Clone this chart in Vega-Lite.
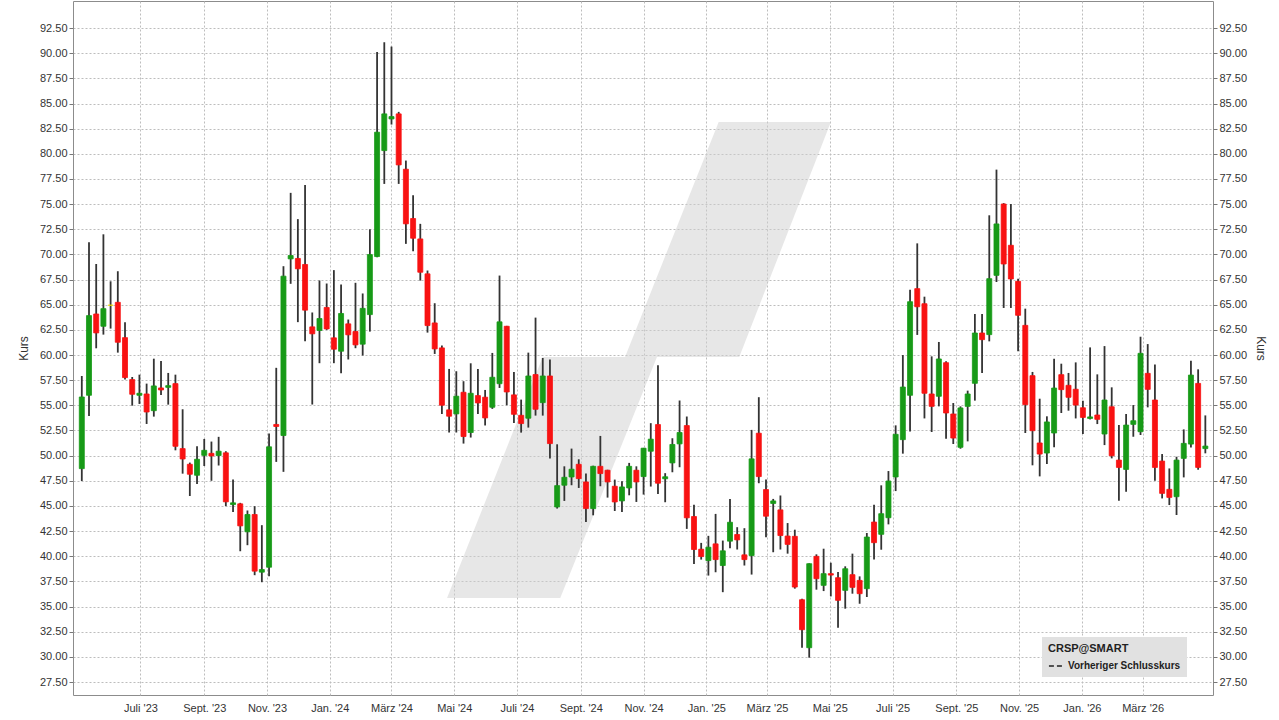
{
  "$schema": "https://vega.github.io/schema/vega-lite/v6.json",
  "width": 1140,
  "height": 694,
  "autosize": "none",
  "padding": {"left": 73, "top": 1, "right": 66, "bottom": 25},
  "background": "white",
  "config": {
    "view": {"stroke": "#8c8c8c", "strokeWidth": 1},
    "axis": {
      "labelFont": "Liberation Sans",
      "labelFontSize": 11,
      "labelColor": "#333333",
      "titleFont": "Liberation Sans",
      "titleFontSize": 12,
      "titleFontWeight": "normal",
      "titleColor": "#333333",
      "gridColor": "#bdbdbd",
      "gridDash": [2, 2],
      "gridWidth": 1,
      "domain": false,
      "tickColor": "#777777"
    }
  },
  "datasets": {
    "candles": [
      {"date": "2023-05-05", "open": 48.71, "high": 57.92, "low": 47.48, "close": 55.83},
      {"date": "2023-05-12", "open": 56.0, "high": 71.2, "low": 53.95, "close": 63.92},
      {"date": "2023-05-19", "open": 64.08, "high": 69.05, "low": 60.67, "close": 62.2},
      {"date": "2023-05-26", "open": 62.86, "high": 72.0, "low": 62.03, "close": 64.61},
      {"date": "2023-06-02", "open": 64.95, "high": 67.33, "low": 62.63, "close": 64.95},
      {"date": "2023-06-09", "open": 65.24, "high": 68.33, "low": 60.24, "close": 61.27},
      {"date": "2023-06-16", "open": 61.73, "high": 63.26, "low": 57.56, "close": 57.76},
      {"date": "2023-06-23", "open": 57.56, "high": 57.82, "low": 54.97, "close": 56.1},
      {"date": "2023-06-30", "open": 56.0, "high": 58.05, "low": 55.14, "close": 56.2},
      {"date": "2023-07-07", "open": 56.13, "high": 57.16, "low": 53.15, "close": 54.34},
      {"date": "2023-07-14", "open": 54.47, "high": 59.64, "low": 53.88, "close": 56.93},
      {"date": "2023-07-21", "open": 56.73, "high": 59.41, "low": 56.03, "close": 56.53},
      {"date": "2023-07-28", "open": 56.79, "high": 58.22, "low": 55.07, "close": 56.96},
      {"date": "2023-08-04", "open": 57.16, "high": 58.05, "low": 50.53, "close": 50.93},
      {"date": "2023-08-11", "open": 50.7, "high": 54.61, "low": 48.21, "close": 49.67},
      {"date": "2023-08-18", "open": 49.14, "high": 49.31, "low": 45.99, "close": 48.15},
      {"date": "2023-08-25", "open": 48.05, "high": 50.93, "low": 47.19, "close": 49.64},
      {"date": "2023-09-01", "open": 50.03, "high": 51.66, "low": 48.97, "close": 50.53},
      {"date": "2023-09-08", "open": 50.23, "high": 51.4, "low": 47.5, "close": 49.97},
      {"date": "2023-09-15", "open": 50.01, "high": 51.87, "low": 49.02, "close": 50.44},
      {"date": "2023-09-22", "open": 50.28, "high": 50.44, "low": 44.98, "close": 45.41},
      {"date": "2023-09-29", "open": 45.14, "high": 47.63, "low": 44.41, "close": 45.31},
      {"date": "2023-10-06", "open": 45.21, "high": 45.31, "low": 40.5, "close": 43.02},
      {"date": "2023-10-13", "open": 42.43, "high": 44.55, "low": 41.1, "close": 44.15},
      {"date": "2023-10-20", "open": 44.15, "high": 44.98, "low": 38.12, "close": 38.52},
      {"date": "2023-10-27", "open": 38.42, "high": 43.09, "low": 37.42, "close": 38.68},
      {"date": "2023-11-03", "open": 38.91, "high": 52.2, "low": 38.02, "close": 50.88},
      {"date": "2023-11-10", "open": 53.1, "high": 58.73, "low": 49.38, "close": 52.9},
      {"date": "2023-11-17", "open": 52.0, "high": 68.83, "low": 48.39, "close": 67.84},
      {"date": "2023-11-24", "open": 69.56, "high": 76.12, "low": 67.08, "close": 69.89},
      {"date": "2023-12-01", "open": 69.6, "high": 73.51, "low": 63.27, "close": 68.57},
      {"date": "2023-12-08", "open": 69.0, "high": 76.89, "low": 61.38, "close": 64.46},
      {"date": "2023-12-15", "open": 62.8, "high": 64.23, "low": 55.08, "close": 62.11},
      {"date": "2023-12-22", "open": 62.44, "high": 67.41, "low": 59.19, "close": 63.63},
      {"date": "2023-12-29", "open": 64.73, "high": 67.11, "low": 62.5, "close": 62.6},
      {"date": "2024-01-05", "open": 61.71, "high": 68.44, "low": 59.19, "close": 60.58},
      {"date": "2024-01-12", "open": 60.38, "high": 67.01, "low": 58.2, "close": 64.13},
      {"date": "2024-01-19", "open": 63.1, "high": 63.53, "low": 59.56, "close": 62.01},
      {"date": "2024-01-26", "open": 62.34, "high": 67.18, "low": 60.68, "close": 61.01},
      {"date": "2024-02-02", "open": 61.08, "high": 66.12, "low": 59.95, "close": 64.64},
      {"date": "2024-02-09", "open": 64.02, "high": 72.5, "low": 62.33, "close": 69.99},
      {"date": "2024-02-16", "open": 69.79, "high": 90.13, "low": 69.72, "close": 82.15},
      {"date": "2024-02-23", "open": 80.32, "high": 91.09, "low": 77.01, "close": 83.97},
      {"date": "2024-03-01", "open": 83.47, "high": 90.66, "low": 82.91, "close": 83.7},
      {"date": "2024-03-08", "open": 83.97, "high": 84.17, "low": 77.01, "close": 78.9},
      {"date": "2024-03-15", "open": 78.47, "high": 79.33, "low": 71.05, "close": 73.04},
      {"date": "2024-03-22", "open": 73.57, "high": 75.88, "low": 70.32, "close": 71.61},
      {"date": "2024-03-29", "open": 71.54, "high": 73.04, "low": 67.4, "close": 68.23},
      {"date": "2024-04-05", "open": 68.07, "high": 68.4, "low": 62.23, "close": 62.93},
      {"date": "2024-04-12", "open": 63.19, "high": 65.15, "low": 60.11, "close": 60.61},
      {"date": "2024-04-19", "open": 60.71, "high": 60.94, "low": 54.15, "close": 55.01},
      {"date": "2024-04-26", "open": 54.55, "high": 58.62, "low": 52.3, "close": 53.92},
      {"date": "2024-05-03", "open": 54.15, "high": 58.39, "low": 52.3, "close": 55.91},
      {"date": "2024-05-10", "open": 56.3, "high": 57.4, "low": 51.2, "close": 51.9},
      {"date": "2024-05-17", "open": 52.3, "high": 59.18, "low": 51.8, "close": 56.2},
      {"date": "2024-05-24", "open": 55.97, "high": 58.62, "low": 54.15, "close": 55.24},
      {"date": "2024-05-31", "open": 55.81, "high": 56.53, "low": 53.0, "close": 53.75},
      {"date": "2024-06-07", "open": 54.81, "high": 60.21, "low": 54.65, "close": 57.79},
      {"date": "2024-06-14", "open": 57.15, "high": 67.9, "low": 56.73, "close": 63.3},
      {"date": "2024-06-21", "open": 62.86, "high": 62.9, "low": 55.01, "close": 56.33},
      {"date": "2024-06-28", "open": 56.04, "high": 58.32, "low": 53.25, "close": 54.11},
      {"date": "2024-07-05", "open": 54.01, "high": 55.57, "low": 52.29, "close": 53.19},
      {"date": "2024-07-12", "open": 53.72, "high": 60.24, "low": 52.79, "close": 57.92},
      {"date": "2024-07-19", "open": 58.06, "high": 63.72, "low": 53.98, "close": 54.61},
      {"date": "2024-07-26", "open": 55.27, "high": 59.71, "low": 53.98, "close": 57.92},
      {"date": "2024-08-02", "open": 57.92, "high": 59.55, "low": 49.71, "close": 51.2},
      {"date": "2024-08-09", "open": 44.9, "high": 51.13, "low": 44.74, "close": 47.02},
      {"date": "2024-08-16", "open": 47.06, "high": 48.94, "low": 45.5, "close": 47.85},
      {"date": "2024-08-23", "open": 47.88, "high": 50.7, "low": 47.06, "close": 48.65},
      {"date": "2024-08-30", "open": 49.14, "high": 49.64, "low": 46.79, "close": 47.72},
      {"date": "2024-09-06", "open": 47.39, "high": 48.22, "low": 43.41, "close": 44.74},
      {"date": "2024-09-13", "open": 44.74, "high": 49.0, "low": 44.07, "close": 48.94},
      {"date": "2024-09-20", "open": 48.94, "high": 51.96, "low": 46.96, "close": 48.22},
      {"date": "2024-09-27", "open": 48.55, "high": 48.6, "low": 45.83, "close": 47.39},
      {"date": "2024-10-04", "open": 46.96, "high": 47.62, "low": 44.5, "close": 45.4},
      {"date": "2024-10-11", "open": 45.5, "high": 47.45, "low": 44.41, "close": 46.89},
      {"date": "2024-10-18", "open": 46.79, "high": 49.28, "low": 46.06, "close": 48.94},
      {"date": "2024-10-25", "open": 48.55, "high": 48.94, "low": 45.4, "close": 47.39},
      {"date": "2024-11-01", "open": 47.92, "high": 50.77, "low": 46.13, "close": 50.74},
      {"date": "2024-11-08", "open": 50.44, "high": 53.23, "low": 46.93, "close": 51.64},
      {"date": "2024-11-15", "open": 53.09, "high": 58.99, "low": 46.2, "close": 47.26},
      {"date": "2024-11-22", "open": 47.7, "high": 48.26, "low": 45.37, "close": 47.9},
      {"date": "2024-11-29", "open": 49.28, "high": 51.73, "low": 48.35, "close": 51.11},
      {"date": "2024-12-06", "open": 51.17, "high": 55.48, "low": 48.85, "close": 52.3},
      {"date": "2024-12-13", "open": 52.99, "high": 53.89, "low": 42.72, "close": 43.82},
      {"date": "2024-12-20", "open": 43.95, "high": 45.11, "low": 39.24, "close": 40.67},
      {"date": "2024-12-27", "open": 40.7, "high": 41.33, "low": 39.67, "close": 39.97},
      {"date": "2025-01-03", "open": 39.57, "high": 42.03, "low": 38.08, "close": 40.9},
      {"date": "2025-01-10", "open": 41.23, "high": 44.21, "low": 38.41, "close": 39.67},
      {"date": "2025-01-17", "open": 39.08, "high": 41.56, "low": 36.43, "close": 40.54},
      {"date": "2025-01-24", "open": 41.5, "high": 45.7, "low": 40.8, "close": 43.38},
      {"date": "2025-01-31", "open": 42.16, "high": 42.89, "low": 40.67, "close": 41.63},
      {"date": "2025-02-07", "open": 40.14, "high": 42.79, "low": 39.08, "close": 39.67},
      {"date": "2025-02-14", "open": 40.07, "high": 52.56, "low": 38.18, "close": 49.68},
      {"date": "2025-02-21", "open": 52.23, "high": 55.81, "low": 47.26, "close": 47.92},
      {"date": "2025-02-28", "open": 46.63, "high": 47.63, "low": 41.89, "close": 43.98},
      {"date": "2025-03-07", "open": 45.25, "high": 45.7, "low": 40.4, "close": 45.5},
      {"date": "2025-03-14", "open": 44.61, "high": 46.04, "low": 40.67, "close": 42.06},
      {"date": "2025-03-21", "open": 42.01, "high": 43.3, "low": 40.26, "close": 41.18},
      {"date": "2025-03-28", "open": 41.98, "high": 42.64, "low": 36.78, "close": 36.94},
      {"date": "2025-04-04", "open": 35.68, "high": 35.78, "low": 30.91, "close": 32.7},
      {"date": "2025-04-11", "open": 30.91, "high": 39.3, "low": 29.92, "close": 39.26},
      {"date": "2025-04-18", "open": 39.99, "high": 40.19, "low": 36.68, "close": 37.77},
      {"date": "2025-04-25", "open": 37.11, "high": 40.75, "low": 36.54, "close": 38.27},
      {"date": "2025-05-02", "open": 38.27, "high": 39.36, "low": 36.01, "close": 38.13},
      {"date": "2025-05-09", "open": 37.87, "high": 38.43, "low": 32.9, "close": 35.62},
      {"date": "2025-05-16", "open": 36.61, "high": 39.0, "low": 34.79, "close": 38.76},
      {"date": "2025-05-23", "open": 38.17, "high": 40.26, "low": 36.28, "close": 36.91},
      {"date": "2025-05-30", "open": 37.6, "high": 38.0, "low": 35.28, "close": 36.28},
      {"date": "2025-06-06", "open": 36.78, "high": 42.31, "low": 35.95, "close": 41.91},
      {"date": "2025-06-13", "open": 43.4, "high": 45.13, "low": 39.69, "close": 41.35},
      {"date": "2025-06-20", "open": 42.18, "high": 47.05, "low": 40.65, "close": 44.23},
      {"date": "2025-06-27", "open": 43.83, "high": 48.47, "low": 43.17, "close": 47.48},
      {"date": "2025-07-04", "open": 47.88, "high": 53.01, "low": 46.48, "close": 52.12},
      {"date": "2025-07-11", "open": 51.59, "high": 60.0, "low": 50.2, "close": 56.82},
      {"date": "2025-07-18", "open": 56.0, "high": 66.5, "low": 52.4, "close": 65.3},
      {"date": "2025-07-25", "open": 66.6, "high": 71.1, "low": 62.0, "close": 64.8},
      {"date": "2025-08-01", "open": 65.1, "high": 65.8, "low": 53.7, "close": 56.2},
      {"date": "2025-08-08", "open": 56.13, "high": 59.87, "low": 52.35, "close": 54.9},
      {"date": "2025-08-15", "open": 55.9, "high": 61.3, "low": 54.9, "close": 59.61},
      {"date": "2025-08-22", "open": 59.24, "high": 59.38, "low": 51.69, "close": 54.24},
      {"date": "2025-08-29", "open": 54.14, "high": 55.23, "low": 51.16, "close": 51.75},
      {"date": "2025-09-05", "open": 50.83, "high": 54.9, "low": 50.69, "close": 54.74},
      {"date": "2025-09-12", "open": 54.9, "high": 56.46, "low": 51.42, "close": 56.13},
      {"date": "2025-09-19", "open": 57.19, "high": 64.08, "low": 55.47, "close": 62.19},
      {"date": "2025-09-26", "open": 62.19, "high": 64.08, "low": 58.22, "close": 61.53},
      {"date": "2025-10-03", "open": 62.03, "high": 73.89, "low": 61.36, "close": 67.59},
      {"date": "2025-10-10", "open": 67.92, "high": 78.43, "low": 67.26, "close": 73.03},
      {"date": "2025-10-17", "open": 75.01, "high": 75.1, "low": 64.68, "close": 69.05},
      {"date": "2025-10-24", "open": 70.91, "high": 75.01, "low": 64.68, "close": 67.56},
      {"date": "2025-10-31", "open": 67.33, "high": 67.59, "low": 60.37, "close": 63.95},
      {"date": "2025-11-07", "open": 62.95, "high": 64.61, "low": 52.25, "close": 55.07},
      {"date": "2025-11-14", "open": 57.95, "high": 58.32, "low": 49.04, "close": 52.48},
      {"date": "2025-11-21", "open": 51.26, "high": 55.66, "low": 47.94, "close": 50.16},
      {"date": "2025-11-28", "open": 50.26, "high": 53.91, "low": 49.17, "close": 53.35},
      {"date": "2025-12-05", "open": 52.25, "high": 59.64, "low": 50.83, "close": 56.72},
      {"date": "2025-12-12", "open": 58.05, "high": 59.14, "low": 54.24, "close": 56.56},
      {"date": "2025-12-19", "open": 56.99, "high": 58.22, "low": 54.47, "close": 55.8},
      {"date": "2025-12-26", "open": 56.6, "high": 59.27, "low": 53.7, "close": 55.03},
      {"date": "2026-01-02", "open": 54.76, "high": 55.46, "low": 52.15, "close": 53.8},
      {"date": "2026-01-09", "open": 53.7, "high": 60.76, "low": 53.6, "close": 53.85},
      {"date": "2026-01-16", "open": 54.04, "high": 58.08, "low": 53.14, "close": 53.61},
      {"date": "2026-01-23", "open": 52.15, "high": 60.89, "low": 51.05, "close": 55.53},
      {"date": "2026-01-30", "open": 54.86, "high": 56.79, "low": 49.73, "close": 49.99},
      {"date": "2026-02-06", "open": 49.56, "high": 53.04, "low": 45.52, "close": 48.83},
      {"date": "2026-02-13", "open": 48.63, "high": 54.14, "low": 46.41, "close": 53.04},
      {"date": "2026-02-20", "open": 53.11, "high": 55.03, "low": 51.88, "close": 53.47},
      {"date": "2026-02-27", "open": 52.38, "high": 61.82, "low": 52.05, "close": 60.17},
      {"date": "2026-03-06", "open": 58.18, "high": 61.09, "low": 54.8, "close": 56.59},
      {"date": "2026-03-13", "open": 55.53, "high": 59.07, "low": 47.51, "close": 48.83},
      {"date": "2026-03-20", "open": 49.46, "high": 50.16, "low": 45.75, "close": 46.25},
      {"date": "2026-03-27", "open": 46.65, "high": 48.73, "low": 45.09, "close": 45.85},
      {"date": "2026-04-03", "open": 45.92, "high": 49.89, "low": 44.1, "close": 49.56},
      {"date": "2026-04-10", "open": 49.73, "high": 52.61, "low": 47.84, "close": 51.22},
      {"date": "2026-04-17", "open": 51.15, "high": 59.44, "low": 50.82, "close": 58.01},
      {"date": "2026-04-24", "open": 57.18, "high": 58.58, "low": 48.6, "close": 48.83},
      {"date": "2026-05-01", "open": 50.7, "high": 54.0, "low": 50.23, "close": 50.95}
    ],
    "watermark": [
      {"i": 1, "date": "2025-01-13", "kurs": 83.17},
      {"i": 2, "date": "2025-05-02", "kurs": 83.17},
      {"i": 3, "date": "2025-02-02", "kurs": 59.81},
      {"i": 4, "date": "2024-11-14", "kurs": 59.81},
      {"i": 5, "date": "2024-08-12", "kurs": 35.85},
      {"i": 6, "date": "2024-04-24", "kurs": 35.85},
      {"i": 7, "date": "2024-07-26", "kurs": 59.81},
      {"i": 8, "date": "2024-10-14", "kurs": 59.81}
    ],
    "prev": [
      {"date": "2026-05-01", "kurs": 50.8, "serie": "Vorheriger Schlusskurs"}
    ]
  },
  "resolve": {"axis": {"x": "independent", "y": "independent"}},
  "layer": [
    {
      "data": {"name": "watermark"},
      "mark": {"type": "line", "fill": "#cfcfcf", "fillOpacity": 0.5, "stroke": "#cfcfcf", "strokeOpacity": 0, "strokeWidth": 0, "clip": true},
      "encoding": {
        "y": {"field": "kurs", "type": "quantitative", "scale": {"domain": [26.21, 95.19], "zero": false, "nice": false}, "axis": null},
        "x": {"field": "date", "type": "temporal", "scale": {"type": "utc", "domain": [{"year": 2023, "month": 5, "date": 1, "hours": 7, "minutes": 26, "utc": true}, {"year": 2026, "month": 5, "date": 3, "hours": 14, "utc": true}]}, "axis": null},
        "order": {"field": "i", "type": "quantitative"}
      }
    },
    {
      "data": {"name": "candles"},
      "mark": {"type": "rule", "color": "#333333", "strokeWidth": 1.8},
      "encoding": {
        "x": {
          "field": "date", "type": "temporal",
          "scale": {"type": "utc", "domain": [{"year": 2023, "month": 5, "date": 1, "hours": 7, "minutes": 26, "utc": true}, {"year": 2026, "month": 5, "date": 3, "hours": 14, "utc": true}]},
          "axis": {
            "title": null,
            "grid": true,
            "ticks": false,
            "tickSize": 0,
            "labelPadding": 7,
            "labelFont": "Liberation Sans",
            "labelFontSize": 11,
            "values": [
              {"year": 2023, "month": 7, "date": 1, "utc": true},
              {"year": 2023, "month": 9, "date": 1, "utc": true},
              {"year": 2023, "month": 11, "date": 1, "utc": true},
              {"year": 2024, "month": 1, "date": 1, "utc": true},
              {"year": 2024, "month": 3, "date": 1, "utc": true},
              {"year": 2024, "month": 5, "date": 1, "utc": true},
              {"year": 2024, "month": 7, "date": 1, "utc": true},
              {"year": 2024, "month": 9, "date": 1, "utc": true},
              {"year": 2024, "month": 11, "date": 1, "utc": true},
              {"year": 2025, "month": 1, "date": 1, "utc": true},
              {"year": 2025, "month": 3, "date": 1, "utc": true},
              {"year": 2025, "month": 5, "date": 1, "utc": true},
              {"year": 2025, "month": 7, "date": 1, "utc": true},
              {"year": 2025, "month": 9, "date": 1, "utc": true},
              {"year": 2025, "month": 11, "date": 1, "utc": true},
              {"year": 2026, "month": 1, "date": 1, "utc": true},
              {"year": 2026, "month": 3, "date": 1, "utc": true}
            ],
            "labelExpr": "['Jan.','Feb.','März','Apr.','Mai','Juni','Juli','Aug.','Sept.','Okt.','Nov.','Dez.'][utcmonth(datum.value)] + ' ' + utcFormat(datum.value, \"'%y\")"
          }
        },
        "y": {
          "field": "low", "type": "quantitative",
          "scale": {"domain": [26.21, 95.19], "zero": false, "nice": false},
          "axis": {
            "orient": "left",
            "title": "Kurs",
            "grid": true,
            "format": ".2f",
            "tickSize": 4,
            "labelPadding": 2,
            "titlePadding": 9,
            "values": [27.5, 30, 32.5, 35, 37.5, 40, 42.5, 45, 47.5, 50, 52.5, 55, 57.5, 60, 62.5, 65, 67.5, 70, 72.5, 75, 77.5, 80, 82.5, 85, 87.5, 90, 92.5]
          }
        },
        "y2": {"field": "high"}
      }
    },
    {
      "data": {"name": "candles"},
      "mark": {"type": "bar", "size": 5, "strokeWidth": 0.8},
      "encoding": {
        "x": {"field": "date", "type": "temporal", "scale": {"type": "utc", "domain": [{"year": 2023, "month": 5, "date": 1, "hours": 7, "minutes": 26, "utc": true}, {"year": 2026, "month": 5, "date": 3, "hours": 14, "utc": true}]}, "axis": null},
        "y": {
          "field": "open", "type": "quantitative",
          "scale": {"domain": [26.21, 95.19], "zero": false, "nice": false},
          "axis": {
            "orient": "right",
            "title": "Kurs",
            "grid": false,
            "format": ".2f",
            "tickSize": 4,
            "labelPadding": 2,
            "titlePadding": 7,
            "values": [27.5, 30, 32.5, 35, 37.5, 40, 42.5, 45, 47.5, 50, 52.5, 55, 57.5, 60, 62.5, 65, 67.5, 70, 72.5, 75, 77.5, 80, 82.5, 85, 87.5, 90, 92.5]
          }
        },
        "y2": {"field": "close"},
        "color": {
          "condition": [
            {"test": "datum.close > datum.open", "value": "#179a17"},
            {"test": "datum.close < datum.open", "value": "#f81212"}
          ],
          "value": "#e8dc00"
        },
        "stroke": {
          "condition": [
            {"test": "datum.close > datum.open", "value": "#179a17"},
            {"test": "datum.close < datum.open", "value": "#f81212"}
          ],
          "value": "#e8dc00"
        }
      }
    },
    {
      "data": {"name": "prev"},
      "mark": {"type": "line", "color": "#222222", "strokeWidth": 1.5},
      "encoding": {
        "x": {"field": "date", "type": "temporal", "scale": {"type": "utc", "domain": [{"year": 2023, "month": 5, "date": 1, "hours": 7, "minutes": 26, "utc": true}, {"year": 2026, "month": 5, "date": 3, "hours": 14, "utc": true}]}, "axis": null},
        "y": {"field": "kurs", "type": "quantitative", "scale": {"domain": [26.21, 95.19], "zero": false, "nice": false}, "axis": null},
        "strokeDash": {
          "field": "serie", "type": "nominal",
          "scale": {"range": [[5, 3]]},
          "legend": {
            "title": "CRSP@SMART",
            "orient": "none",
            "legendX": 969,
            "legendY": 636,
            "fillColor": "#e1e1e1",
            "padding": 6,
            "titleFont": "Liberation Sans",
            "titleFontSize": 11,
            "titleFontWeight": "bold",
            "titleColor": "#222222",
            "titlePadding": 4,
            "labelFont": "Liberation Sans",
            "labelFontSize": 10,
            "labelFontWeight": "bold",
            "labelColor": "#222222",
            "labelLimit": 200,
            "symbolType": "stroke",
            "symbolStrokeColor": "#222222",
            "symbolStrokeWidth": 1.5,
            "symbolSize": 200
          }
        }
      }
    }
  ]
}
